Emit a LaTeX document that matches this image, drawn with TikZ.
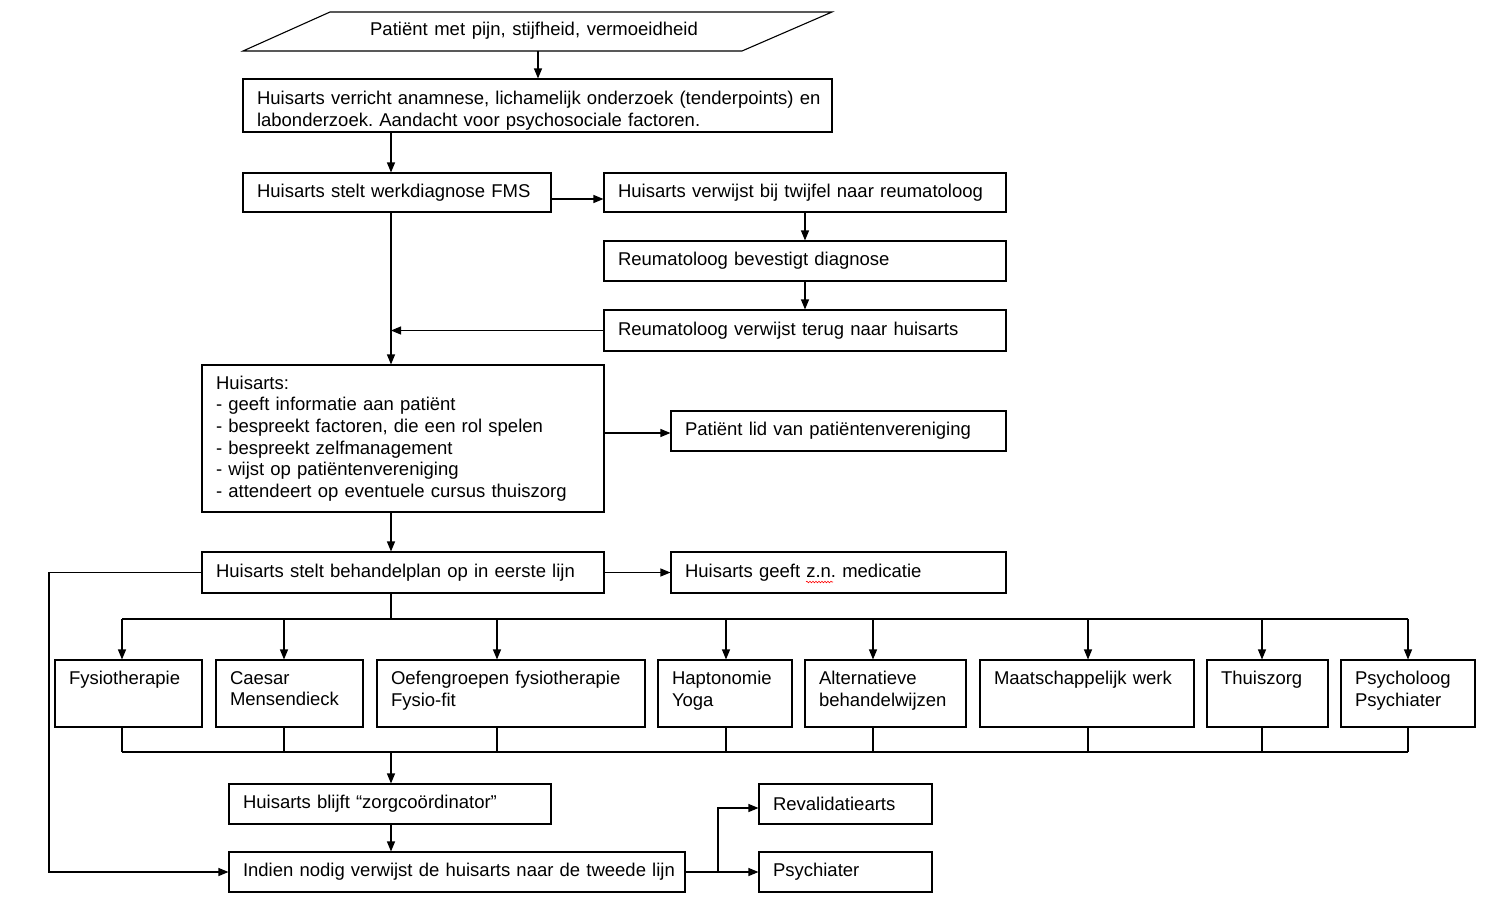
\documentclass[tikz,border=0pt]{standalone}
\usepackage{fontspec}
\setmainfont{Liberation Sans}[WordSpace=0.7]
\usetikzlibrary{arrows.meta,decorations.pathmorphing}
\newcommand\fs{\fontsize{18.5}{21.6}\selectfont\frenchspacing}
\newcommand\lastdp{\rule[-10pt]{0pt}{1pt}}
\tikzset{
  box/.style={draw, line width=1.1pt, rectangle, inner xsep=14pt, inner ysep=0pt, align=left, font=\fs},
  arr/.style={line width=1.1pt, -{Triangle[length=10pt,width=8pt]}},
  ln/.style={line width=1.1pt},
  squig/.style={red, line width=0.6pt, decorate, decoration={snake, amplitude=0.8pt, segment length=3pt}},
}
\begin{document}
\begin{tikzpicture}[x=1pt,y=-1pt]
\useasboundingbox (0,0) rectangle (1503,921);
% reference coordinates
\coordinate (spine) at (391,0);
\coordinate (leftrail) at (49,0);
\coordinate (bus1) at (0,619);
\coordinate (bus2) at (0,752);
\coordinate (fork) at (718,0);
% start parallelogram
\node[font=\fs] (p) at (534,31) {\spaceskip=6.6pt\relax Patiënt met pijn, stijfheid, vermoeidheid};
\draw[ln] (330,12) -- (832,12) -- (742,51) -- (243,51) -- cycle;
\coordinate (pb) at (538,51);
% boxes
\node[box, minimum width=589pt, minimum height=53pt, text width=561pt] (b2) at (537.5,105.5)
  {\rule{0pt}{24pt}\mbox{Huisarts verricht anamnese, lichamelijk onderzoek (tenderpoints) en}\\\mbox{labonderzoek. Aandacht voor psychosociale factoren.}};
\node[box, minimum width=308pt, minimum height=39pt, text width=280pt] (b3) at (397,192.5)
  {\mbox{Huisarts stelt werkdiagnose FMS}};
\node[box, minimum width=402pt, minimum height=39pt, text width=374pt] (b4) at (805,192.5)
  {\mbox{Huisarts verwijst bij twijfel naar reumatoloog}};
\node[box, minimum width=402pt, minimum height=40pt, text width=374pt] (b5) at (805,261)
  {\mbox{Reumatoloog bevestigt diagnose}};
\node[box, minimum width=402pt, minimum height=41pt, text width=374pt] (b6) at (805,330.5)
  {\mbox{Reumatoloog verwijst terug naar huisarts}};
\node[box, minimum width=402pt, minimum height=147pt, text width=374pt] (b7) at (403,438.5)
  {\mbox{Huisarts:}\\\mbox{- geeft informatie aan patiënt}\\\mbox{- bespreekt factoren, die een rol spelen}\\\mbox{- bespreekt zelfmanagement}\\\mbox{- wijst op patiëntenvereniging}\\\mbox{- attendeert op eventuele cursus thuiszorg}};
\node[box, minimum width=335pt, minimum height=40pt, text width=307pt] (b8) at (838.5,431)
  {\mbox{Patiënt lid van patiëntenvereniging}};
\node[box, minimum width=402pt, minimum height=41pt, text width=374pt] (b9) at (403,572.5)
  {\mbox{Huisarts stelt behandelplan op in eerste lijn}};
\node[box, minimum width=335pt, minimum height=41pt, text width=307pt] (b10) at (838.5,572.5)
  {\mbox{Huisarts geeft z.n. medicatie}};
% row of treatments
\tikzset{rowbox/.style={box, minimum height=67pt}}
\node[rowbox, minimum width=147pt, text width=119pt] (r1) at (128.5,693.5) {\mbox{Fysiotherapie}\\\mbox{}\lastdp};
\node[rowbox, minimum width=147pt, text width=119pt] (r2) at (289.5,693.5) {\mbox{Caesar}\\\mbox{Mensendieck}\lastdp};
\node[rowbox, minimum width=268pt, text width=240pt] (r3) at (511,693.5) {\mbox{Oefengroepen fysiotherapie}\\\mbox{Fysio-fit}\lastdp};
\node[rowbox, minimum width=134pt, text width=106pt] (r4) at (725,693.5) {\mbox{Haptonomie}\\\mbox{Yoga}\lastdp};
\node[rowbox, minimum width=161pt, text width=133pt] (r5) at (885.5,693.5) {\mbox{Alternatieve}\\\mbox{behandelwijzen}\lastdp};
\node[rowbox, minimum width=214pt, text width=186pt] (r6) at (1087,693.5) {\mbox{Maatschappelijk werk}\\\mbox{}\lastdp};
\node[rowbox, minimum width=121pt, text width=93pt] (r7) at (1267.5,693.5) {\mbox{Thuiszorg}\\\mbox{}\lastdp};
\node[rowbox, minimum width=134pt, text width=106pt] (r8) at (1408,693.5) {\mbox{Psycholoog}\\\mbox{Psychiater}\lastdp};
% bottom boxes
\node[box, minimum width=322pt, minimum height=40pt, text width=294pt] (b16) at (390,804)
  {\mbox{Huisarts blijft “zorgcoördinator”}};
\node[box, minimum width=456pt, minimum height=40pt, text width=428pt] (b17) at (457,872)
  {\mbox{Indien nodig verwijst de huisarts naar de tweede lijn}};
\node[box, minimum width=173pt, minimum height=40pt, text width=145pt] (b18) at (845.5,804)
  {\mbox{Revalidatiearts}};
\node[box, minimum width=173pt, minimum height=40pt, text width=145pt] (b19) at (845.5,872)
  {\mbox{Psychiater}};
% spell-check mark
\draw[squig] (806,582) -- (833,582);
% connectors
\draw[arr] (pb) -- (pb |- b2.north);
\draw[arr] (b2.south -| spine) -- (b3.north -| spine);
\draw[arr] ([yshift=-6.5pt]b3.east) -- ([yshift=-6.5pt]b4.west);
\draw[arr] (b4.south) -- (b5.north);
\draw[arr] (b5.south) -- (b6.north);
\draw[arr] (b6.west) -- (b6.west -| spine);
\draw[arr] (b3.south -| spine) -- (b7.north -| spine);
\draw[arr] ([yshift=-2pt]b7.east |- b8.west) -- ([yshift=-2pt]b8.west);
\draw[arr] (b7.south -| spine) -- (b9.north -| spine);
\draw[arr] (b9.east) -- (b10.west);
\draw[arr] (b9.west) -- (b9.west -| leftrail) |- (b17.west);
\draw[ln] (b9.south -| spine) -- (bus1 -| spine);
\draw[ln] ([xshift=-6.5pt]r1.north |- bus1) -- (r8.north |- bus1);
\foreach \n/\dx in {r1/-6.5, r2/-5.5, r3/-14, r4/1, r5/-12.5, r6/1, r7/-5.5, r8/0} {
  \draw[arr] ([xshift=\dx pt]\n.north |- bus1) -- ([xshift=\dx pt]\n.north);
  \draw[ln] ([xshift=\dx pt]\n.south) -- ([xshift=\dx pt]\n.south |- bus2);
}
\draw[ln] ([xshift=-6.5pt]r1.south |- bus2) -- (r8.south |- bus2);
\draw[arr] (bus2 -| spine) -- (b16.north -| spine);
\draw[arr] (b16.south -| spine) -- (b17.north -| spine);
\draw[arr] (b17.east) -- (b17.east -| fork) |- ([yshift=-4pt]b18.west);
\draw[arr] (b17.east) -- (b19.west);
\end{tikzpicture}
\end{document}
